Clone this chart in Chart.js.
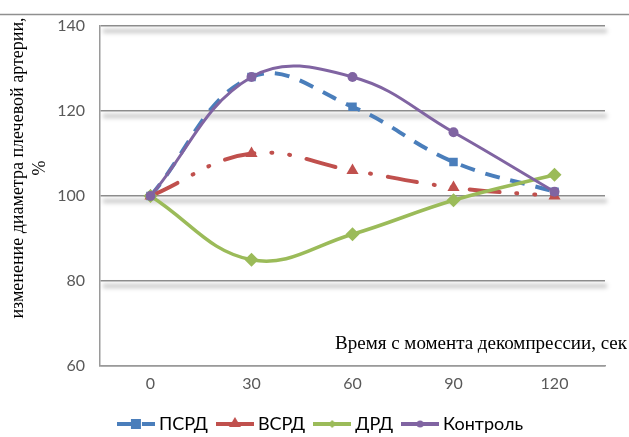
<!DOCTYPE html>
<html>
<head>
<meta charset="utf-8">
<script src="https://cdn.jsdelivr.net/npm/chart.js@4.4.1/dist/chart.umd.min.js"></script>
<style>
  html, body { margin: 0; padding: 0; background: #fff; }
  #wrap { width: 629px; height: 437px; }
</style>
</head>
<body>
<div id="wrap"><canvas id="chart"></canvas></div>
<script>
// Данные графика
const categories = ['0', '30', '60', '90', '120'];
const psrdValues = [100, 128, 121, 108, 101];
const vsrdValues = [100, 110, 106, 102, 100];
const drdValues = [100, 85, 91, 99, 105];
const controlValues = [100, 128, 128, 115, 101];
const seriesNames = ['ПСРД', 'ВСРД', 'ДРД', 'Контроль'];
const yMin = 60;
const yMax = 140;
const yStep = 20;
const yTitleLines = ['изменение диаметра плечевой артерии,', '%'];
const xTitle = 'Время с момента декомпрессии, сек';

const colors = {
  blue: '#4a7ebb',
  red: '#c0504d',
  green: '#9bbb59',
  purple: '#8064a2',
};

// Иконка легенды: линия с маркером посередине
function makeLegendIcon(color, dash, marker) {
  const w = 38;
  const c = document.createElement('canvas');
  c.width = w;
  c.height = 14;
  const g = c.getContext('2d');
  const cx = w / 2;
  g.strokeStyle = color;
  g.lineWidth = 4;
  g.setLineDash(dash);
  g.beginPath();
  g.moveTo(0, 7);
  g.lineTo(w, 7);
  g.stroke();
  g.setLineDash([]);
  g.fillStyle = color;
  g.beginPath();
  if (marker === 'rect') {
    g.rect(cx - 5, 2, 10, 10);
  } else if (marker === 'triangle') {
    g.moveTo(cx, 0);
    g.lineTo(cx + 6, 10);
    g.lineTo(cx - 6, 10);
    g.closePath();
  } else if (marker === 'rectRot') {
    g.moveTo(cx, 3);
    g.lineTo(cx + 4, 7);
    g.lineTo(cx, 11);
    g.lineTo(cx - 4, 7);
    g.closePath();
  } else {
    g.arc(cx, 7, 3.5, 0, Math.PI * 2);
  }
  g.fill();
  return c;
}

const legendIcons = [
  makeLegendIcon(colors.blue, [20, 5], 'rect'),
  makeLegendIcon(colors.red, [], 'triangle'),
  makeLegendIcon(colors.green, [], 'rectRot'),
  makeLegendIcon(colors.purple, [], 'circle'),
];

// Тень под линиями сетки (как в Excel)
const gridShadowPlugin = {
  id: 'gridShadow',
  beforeDraw(chart) {
    const { ctx, chartArea, scales } = chart;
    const y = scales.y;
    ctx.save();
    ctx.filter = 'blur(2px)';
    ctx.strokeStyle = 'rgba(0, 0, 0, 0.22)';
    ctx.lineWidth = 4;
    y.ticks.forEach((t) => {
      if (t.value <= yMin) return;
      const py = y.getPixelForValue(t.value);
      ctx.beginPath();
      ctx.moveTo(chartArea.left + 3, py + 5);
      ctx.lineTo(chartArea.right + 2, py + 5);
      ctx.stroke();
    });
    ctx.restore();
  },
};

// Подписи осей и линия сверху
const axisTitlesPlugin = {
  id: 'axisTitles',
  afterDraw(chart) {
    const { ctx, chartArea, width } = chart;
    ctx.save();
    // линия сверху
    ctx.strokeStyle = '#8f8f8f';
    ctx.lineWidth = 1.5;
    ctx.beginPath();
    ctx.moveTo(0, 14.5);
    ctx.lineTo(width, 14.5);
    ctx.stroke();

    // подпись оси X внутри области графика
    ctx.fillStyle = '#000';
    ctx.font = '19px "Liberation Serif", serif';
    ctx.textAlign = 'right';
    ctx.textBaseline = 'alphabetic';
    ctx.fillText(xTitle, width - 2, chartArea.bottom - 17);

    // подпись оси Y
    ctx.translate(18, 168);
    ctx.rotate(-Math.PI / 2);
    ctx.font = '18px "Liberation Serif", serif';
    ctx.textAlign = 'center';
    ctx.textBaseline = 'middle';
    ctx.fillText(yTitleLines[0], 0, 0);
    ctx.fillText(yTitleLines[1], 0, 22);
    ctx.restore();
  },
};

const ctx = document.getElementById('chart').getContext('2d');
const chartInstance = new Chart(ctx, {
  type: 'line',
  data: {
    labels: categories,
    datasets: [
      {
        label: seriesNames[0],
        data: psrdValues,
        borderColor: colors.blue,
        backgroundColor: colors.blue,
        borderWidth: 4,
        borderDash: [15, 11],
        pointStyle: 'rect',
        pointRadius: 6,
        pointBorderWidth: 0,
        order: 3,
      },
      {
        label: seriesNames[1],
        data: vsrdValues,
        borderColor: colors.red,
        backgroundColor: colors.red,
        borderWidth: 4,
        borderDash: [30, 17, 1, 17, 1, 17],
        borderCapStyle: 'round',
        pointStyle: 'triangle',
        pointRadius: 7,
        pointBorderWidth: 0,
        order: 2,
      },
      {
        label: seriesNames[2],
        data: drdValues,
        borderColor: colors.green,
        backgroundColor: colors.green,
        borderWidth: 3.5,
        pointStyle: 'rectRot',
        pointRadius: 7,
        pointBorderWidth: 0,
        order: 1,
      },
      {
        label: seriesNames[3],
        data: controlValues,
        borderColor: colors.purple,
        backgroundColor: colors.purple,
        borderWidth: 3,
        pointStyle: 'circle',
        pointRadius: 5,
        pointBorderWidth: 0,
        order: 0,
      },
    ],
  },
  options: {
    animation: false,
    responsive: true,
    maintainAspectRatio: false,
    layout: {
      padding: { top: 26, right: 24, left: 40, bottom: -6 },
    },
    elements: {
      line: { tension: 0.4 },
    },
    plugins: {
      tooltip: { enabled: false },
      title: { display: false },
      legend: {
        display: true,
        position: 'bottom',
        labels: {
          usePointStyle: true,
          pointStyleWidth: 28,
          padding: 13,
          color: '#000',
          font: { family: 'Lato, "Open Sans", sans-serif', size: 18 },
          generateLabels(chart) {
            return chart.data.datasets.map((ds, i) => ({
              text: ds.label,
              pointStyle: legendIcons[i],
              fillStyle: ds.borderColor,
              strokeStyle: ds.borderColor,
              lineWidth: 0,
              hidden: false,
              datasetIndex: i,
            }));
          },
        },
      },
    },
    scales: {
      x: {
        offset: true,
        afterFit: (scale) => {
          scale.height = 36;
        },
        grid: { display: false, drawTicks: false },
        border: { display: true, color: '#9a9a9a', width: 1.5 },
        ticks: {
          padding: 8,
          color: '#595959',
          font: { family: 'Lato, "Open Sans", sans-serif', size: 16 },
        },
      },
      y: {
        min: yMin,
        max: yMax,
        afterFit: (scale) => {
          scale.width = 60;
        },
        grid: { color: '#8c8c8c', lineWidth: 1.5, drawTicks: false },
        border: { display: true, color: '#9a9a9a', width: 1.5 },
        ticks: {
          stepSize: yStep,
          padding: 15,
          color: '#595959',
          font: { family: 'Lato, "Open Sans", sans-serif', size: 16 },
        },
      },
    },
  },
  plugins: [gridShadowPlugin, axisTitlesPlugin],
});
</script>
</body>
</html>
